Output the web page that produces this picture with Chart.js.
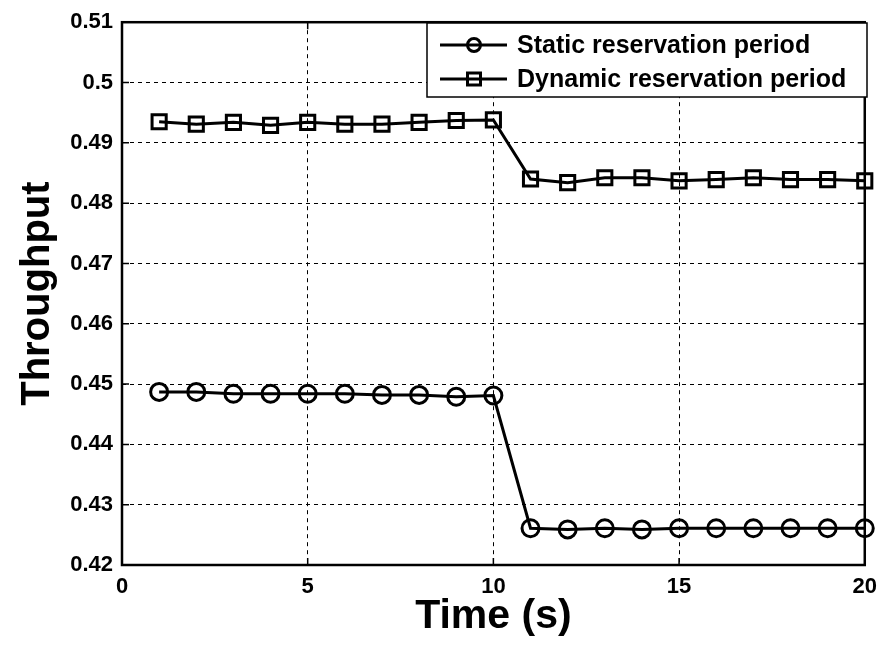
<!DOCTYPE html>
<html><head><meta charset="utf-8">
<script src="https://cdn.jsdelivr.net/npm/chart.js@4.4.0/dist/chart.umd.min.js"></script>
<style>html,body{margin:0;padding:0;background:#fff}#wrap{width:886px;height:647px}</style>
</head><body><div id="wrap"><canvas id="c" width="886" height="647"></canvas></div>
<script>
const timeS = [1,2,3,4,5,6,7,8,9,10,11,12,13,14,15,16,17,18,19,20];
const staticThroughput = [0.4487,0.4487,0.4484,0.4484,0.4484,0.4484,0.4482,0.4482,0.4479,0.4481,
                          0.4261,0.4259,0.4261,0.4259,0.4261,0.4261,0.4261,0.4261,0.4261,0.4261];
const dynamicThroughput = [0.4935,0.4931,0.4934,0.4929,0.4934,0.4931,0.4931,0.4934,0.4937,0.4938,
                           0.4840,0.4834,0.4842,0.4842,0.4837,0.4839,0.4842,0.4839,0.4839,0.4837];
const xTicks = [0,5,10,15,20];
const yTicks = [0.42,0.43,0.44,0.45,0.46,0.47,0.48,0.49,0.50,0.51];
const seriesLabels = ['Static reservation period','Dynamic reservation period'];
const xTitle = 'Time (s)';
const yTitle = 'Throughput';

const FONT = '"Liberation Sans", Arial, Helvetica, sans-serif';

const frame = {
  id: 'frame',
  afterDraw(chart) {
    const {ctx, chartArea: a, scales: {x, y}} = chart;
    ctx.save();
    ctx.strokeStyle = '#000';
    ctx.lineWidth = 2.5;
    ctx.setLineDash([]);
    ctx.strokeRect(a.left, a.top, a.right - a.left, a.bottom - a.top);
    ctx.lineWidth = 1.5;
    const tl = 7;
    xTicks.forEach(v => {
      const px = x.getPixelForValue(v);
      ctx.beginPath();
      ctx.moveTo(px, a.bottom); ctx.lineTo(px, a.bottom - tl);
      ctx.moveTo(px, a.top); ctx.lineTo(px, a.top + tl);
      ctx.stroke();
    });
    yTicks.forEach(v => {
      const py = y.getPixelForValue(v);
      ctx.beginPath();
      ctx.moveTo(a.left, py); ctx.lineTo(a.left + tl, py);
      ctx.moveTo(a.right, py); ctx.lineTo(a.right - tl, py);
      ctx.stroke();
    });
    // legend
    const bx = 427, by = 23, bw = 440, bh = 74;
    ctx.fillStyle = '#fff';
    ctx.fillRect(bx, by, bw, bh);
    ctx.lineWidth = 1.5;
    ctx.strokeRect(bx, by, bw, bh);
    const rows = [45, 79];
    chart.data.datasets.forEach((ds, i) => {
      const ry = rows[i];
      ctx.lineWidth = 3;
      ctx.strokeStyle = '#000';
      ctx.beginPath(); ctx.moveTo(440, ry); ctx.lineTo(507, ry); ctx.stroke();
      ctx.beginPath();
      if (ds.pointStyle === 'circle') {
        ctx.arc(474, ry, 6.5, 0, Math.PI * 2);
      } else {
        ctx.rect(467.5, ry - 6, 13, 12);
      }
      ctx.stroke();
      ctx.fillStyle = '#000';
      ctx.font = 'bold 25px ' + FONT;
      ctx.textBaseline = 'middle';
      ctx.textAlign = 'left';
      ctx.fillText(ds.label, 517, ry + 1);
    });
    ctx.restore();
  }
};

new Chart(document.getElementById('c'), {
  type: 'line',
  data: {
    datasets: [
      {
        label: seriesLabels[0],
        data: timeS.map((t, i) => ({x: t, y: staticThroughput[i]})),
        borderColor: '#000', backgroundColor: '#fff',
        borderWidth: 3, pointStyle: 'circle', pointRadius: 8.5,
        pointBorderWidth: 3, pointBorderColor: '#000', pointBackgroundColor: 'rgba(0,0,0,0)',
        tension: 0, clip: false
      },
      {
        label: seriesLabels[1],
        data: timeS.map((t, i) => ({x: t, y: dynamicThroughput[i]})),
        borderColor: '#000', backgroundColor: '#fff',
        borderWidth: 3, pointStyle: 'rect', pointRadius: 10,
        pointBorderWidth: 3, pointBorderColor: '#000', pointBackgroundColor: 'rgba(0,0,0,0)',
        tension: 0, clip: false
      }
    ]
  },
  options: {
    responsive: false,
    animation: false,
    devicePixelRatio: 1,
    layout: {padding: {left: 0, top: 20, right: 16, bottom: 0}},
    plugins: {legend: {display: false}, tooltip: {enabled: false}},
    scales: {
      x: {
        type: 'linear', min: 0, max: 20,
        afterBuildTicks: s => { s.ticks = xTicks.map(v => ({value: v})); },
        afterFit: s => { s.height = 82; },
        grid: {color: '#000', lineWidth: 1, drawTicks: false},
        border: {display: false, dash: [4, 4]},
        ticks: {color: '#000', font: {family: FONT, size: 22, weight: 'bold'}, padding: 9, maxRotation: 0},
        title: {display: true, text: xTitle, color: '#000',
                font: {family: FONT, size: 41, weight: 'bold', lineHeight: 1}, padding: {top: 0, bottom: 10}}
      },
      y: {
        type: 'linear', min: 0.42, max: 0.51,
        afterBuildTicks: s => { s.ticks = yTicks.map(v => ({value: v})); },
        afterFit: s => { s.width = 122; },
        grid: {color: '#000', lineWidth: 1, drawTicks: false},
        border: {display: false, dash: [4, 4]},
        ticks: {color: '#000', font: {family: FONT, size: 22, weight: 'bold'}, padding: 9,
                callback: v => String(+Number(v).toFixed(2))},
        title: {display: true, text: yTitle, color: '#000',
                font: {family: FONT, size: 40, weight: 'bold', lineHeight: 1}, padding: {top: 18, bottom: 0}}
      }
    }
  },
  plugins: [frame]
});
</script>
</body></html>
